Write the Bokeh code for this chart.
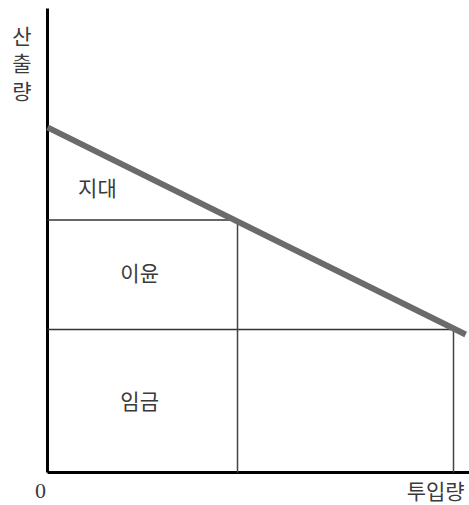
from bokeh.plotting import figure
from bokeh.models import Range1d
from bokeh.embed import file_html
from bokeh.resources import INLINE

# Data (units)
mpl_x = [0.0, 10.3]          # input quantity at the ends of the product line
mpl_y = [8.5, 3.4]           # output per unit of input along the line
labor = [4.68, 10.0]         # two input levels marked on the x axis
level = [6.22, 3.52]         # output levels (profit top, wage)
axis_x_end = 10.39
axis_y_end = 11.43
region_names = ["지대", "이윤", "임금"]
x_axis_name = "투입량"
y_axis_name = "산출량"
origin_label = "0"

PX = 40.6          # pixels per unit
W, H = 469, 505
OX, OY = 47, 472   # origin in pixels

p = figure(width=W, height=H, output_backend="svg", toolbar_location=None,
           x_range=Range1d(-OX / PX, (W - OX) / PX),
           y_range=Range1d(-(H - OY) / PX, OY / PX),
           min_border=0, min_border_left=0, min_border_right=0,
           min_border_top=0, min_border_bottom=0)
p.outline_line_color = None
p.axis.visible = False
p.xgrid.visible = False
p.ygrid.visible = False
p.background_fill_color = "white"
p.border_fill_color = "white"

# axes
p.line([0, axis_x_end], [0, 0], line_color="black", line_width=3)
p.line([0, 0], [0, axis_y_end], line_color="black", line_width=3)

# thin guide lines
p.segment(x0=[0, 0], y0=level, x1=labor, y1=level, line_color="#333333", line_width=1.5)
p.segment(x0=labor, y0=[0, 0], x1=labor, y1=level, line_color="#444444", line_width=1.5)

# thick product line
p.line(mpl_x, mpl_y, line_color="#6b6b6b", line_width=6)

KR = "Noto Sans CJK KR"
FS = "21px"
TC = "#3a3a3a"
label_x = [1.23, 2.27, 2.27]
label_y = [7.04, 4.95, 1.79]
p.text(x=label_x, y=label_y, text=region_names, text_font={"value": KR},
       text_font_size=FS, text_align="center", text_baseline="middle", text_color=TC)

p.text(x=[9.56], y=[-0.42], text=[x_axis_name], text_font={"value": KR},
       text_font_size=FS, text_align="center", text_baseline="middle", text_color=TC)
p.text(x=[-0.17], y=[-0.45], text=[origin_label], text_font={"value": "Liberation Serif"},
       text_font_size="22px", text_align="center", text_baseline="middle", text_color=TC)
# vertical stacked axis name, one character per line
y_chars = list(y_axis_name)
p.text(x=[-0.63] * len(y_chars), y=[10.78, 10.12, 9.43], text=y_chars,
       text_font={"value": KR}, text_font_size=FS, text_align="center",
       text_baseline="middle", text_color=TC)

open("out.html", "w").write(file_html(p, INLINE))
